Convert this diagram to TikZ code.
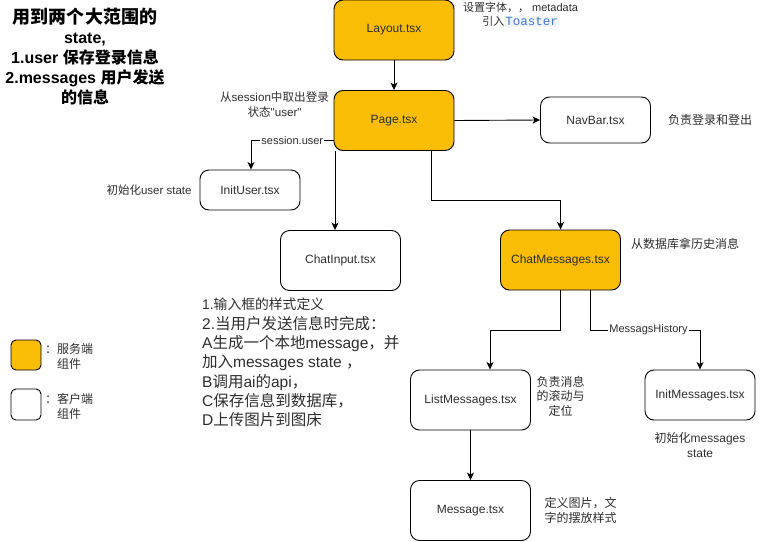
\documentclass[tikz,border=0pt]{standalone}
\usepackage{fontspec}
\setmainfont{Liberation Sans}[Ligatures=TeXOff]
\setmonofont{Liberation Mono}
\newfontfamily\cjkfont{Noto Sans CJK SC}
\newcommand\zh[1]{{\cjkfont #1}}
\usetikzlibrary{arrows.meta}
\definecolor{srv}{RGB}{250,189,6}
\definecolor{txt}{RGB}{45,45,45}
\definecolor{codeblue}{RGB}{66,120,210}
\definecolor{codebg}{RGB}{243,245,247}
\begin{document}
\begin{tikzpicture}[x=1pt,y=-1pt,
  box/.style={draw=black, line width=0.9pt, rounded corners=9pt, minimum width=120pt, minimum height=60pt, inner sep=0pt, text=txt, font=\fontsize{12}{14}\selectfont},
  server/.style={box, fill=srv},
  client/.style={box, fill=white},
  conn/.style={draw=black, line width=0.9pt, -{Stealth[length=7.5pt,width=7pt,inset=2pt]}},
  note/.style={inner sep=0pt, text=txt, align=center, font=\fontsize{11}{14}\selectfont},
  elabel/.style={fill=white, inner sep=1pt, text=txt, font=\fontsize{11}{13}\selectfont},
]
\useasboundingbox (0,0) rectangle (770,541);

% title
\node[inner sep=0pt, align=center, text=black, font=\fontsize{16}{20}\selectfont\bfseries] (title) at (85,57)
  {{\fontsize{18}{20}\selectfont\zh{用到两个大范围的}}\\state,\\1.user \zh{保存登录信息}\\2.messages \zh{用户发送}\\\zh{的信息}};

% boxes
\node[server] (layout) at (394,30) {Layout.tsx};
\node[server] (page) at (394,120.5) {Page.tsx};
\node[client, minimum width=110pt, minimum height=46pt] (navbar) at (595.5,120) {NavBar.tsx};
\node[client, minimum width=100pt, minimum height=40pt] (inituser) at (250,190) {InitUser.tsx};
\node[client] (chatinput) at (340.5,260.5) {ChatInput.tsx};
\node[server] (chatmsgs) at (560.5,260) {ChatMessages.tsx};
\node[client] (listmsgs) at (470.5,400) {ListMessages.tsx};
\node[client, minimum width=110pt, minimum height=50pt] (initmsgs) at (700,395) {InitMessages.tsx};
\node[client] (message) at (470.5,510.5) {Message.tsx};

% legend
\node[server, minimum width=30pt, minimum height=30pt, rounded corners=5pt] (legsrv) at (26,355) {};
\node[client, minimum width=30pt, minimum height=31pt, rounded corners=5pt] (legcli) at (26,404.5) {};
\node[note, font=\fontsize{12}{15}\selectfont] (legsrvt) at (69,356) {\zh{：服务端}\\\zh{组件}};
\node[note, font=\fontsize{12}{15}\selectfont] (legclit) at (69,406) {\zh{：客户端}\\\zh{组件}};

% annotations
\node[note] (layoutnote) at (520.5,14.5) {\zh{设置字体，，} metadata\\\zh{引入}{\fboxsep=1pt\colorbox{codebg}{\fontsize{12.5}{14}\ttfamily\color{codeblue}Toaster}}};
\node[note, font=\fontsize{11.6}{15}\selectfont] (sessnote) at (274.5,105) {\zh{从}session\zh{中取出登录}\\\zh{状态}"user"};
\node[note, font=\fontsize{12}{14}\selectfont] (navnote) at (710,120) {\zh{负责登录和登出}};
\node[note, font=\fontsize{11.5}{14}\selectfont] (inunote) at (149,190) {\zh{初始化}user state};
\node[note, font=\fontsize{12}{14}\selectfont] (cmnote) at (685,244) {\zh{从数据库拿历史消息}};
\node[note, font=\fontsize{12}{14.5}\selectfont] (lmnote) at (560.5,396) {\zh{负责消息}\\\zh{的滚动与}\\\zh{定位}};
\node[note, font=\fontsize{12}{14.5}\selectfont] (imnote) at (700,445) {\zh{初始化}messages\\state};
\node[note, font=\fontsize{12}{15}\selectfont] (msgnote) at (580.5,510.5) {\zh{定义图片，文}\\\zh{字的摆放样式}};
\node[inner sep=0pt, anchor=north west, align=left, text=txt, font=\fontsize{15.5}{19.3}\selectfont] (cinote) at (202,298)
  {{\fontsize{13.8}{19.3}\selectfont 1.\zh{输入框的样式定义}}\\
   2.\zh{当用户发送信息时完成：}\\
   A\zh{生成一个本地}message\zh{，并}\\
   \zh{加入}messages state \zh{，}\\
   B\zh{调用}ai\zh{的}api\zh{，}\\
   C\zh{保存信息到数据库，}\\
   D\zh{上传图片到图床}};

% connectors
\coordinate (pcm) at (431,200);
\coordinate (cml) at (560.5,330);
\coordinate (cmi) at (590.5,330);
\draw[conn] (layout.south) -- (page.north);
\draw[conn] (page.east) -- (navbar.west);
\draw[conn] ([yshift=-20pt]page.west) -| node[elabel, pos=0.25] {session.user} ([xshift=1pt]inituser.north);
\draw[conn] ([xshift=-59pt]page.south) -- ([xshift=-59pt]page.south |- chatinput.north);
\draw[conn] ([xshift=37pt]page.south) -- (pcm) -| (chatmsgs.north);
\draw[conn] (chatmsgs.south) -- (cml) -| ([xshift=19.5pt]listmsgs.north);
\draw[conn] ([xshift=30pt]chatmsgs.south) -- (cmi) -| node[elabel, pos=0.265] {MessagsHistory} (initmsgs.north);
\draw[conn] (listmsgs.south) -- (message.north);
\end{tikzpicture}
\end{document}
